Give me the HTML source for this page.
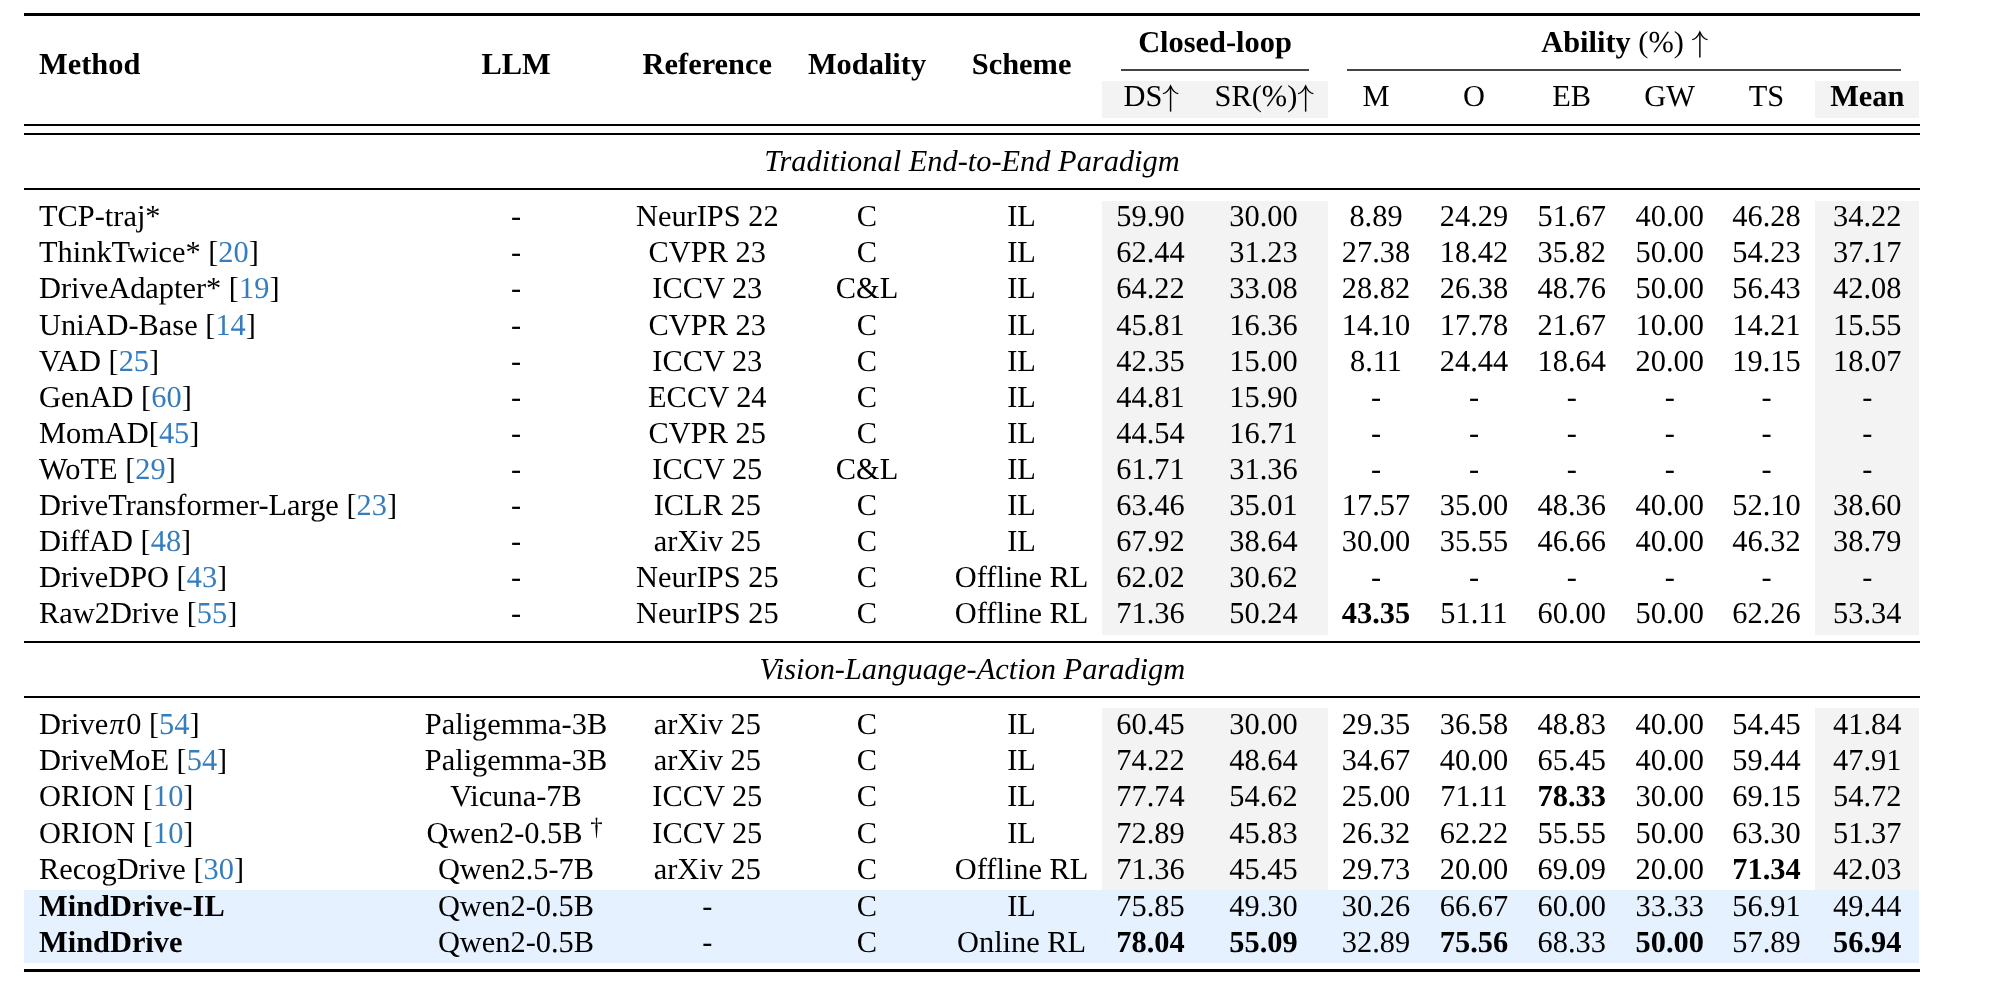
<!DOCTYPE html>
<html><head><meta charset="utf-8"><style>
html,body{margin:0;padding:0;background:#fff;width:1989px;height:990px;overflow:hidden;position:relative}
.t{position:absolute;text-rendering:geometricPrecision;font-family:"Liberation Serif",serif;font-size:30.4px;line-height:36px;height:36px;white-space:nowrap;color:#000}
.c{transform:translateX(-50%)}
.b{font-weight:bold}
.i{font-style:italic}
.r{position:absolute}
#w{position:absolute;left:0;top:0;width:1989px;height:990px;will-change:transform}
.cite{color:#367dbd}
sup{font-size:0.82em;line-height:0;vertical-align:0.34em}
.arr{display:inline-block;position:relative;width:15.2px;height:0}
.arr svg{position:absolute;left:1px;top:-22px;width:16px;height:28px;overflow:visible}
</style></head><body><div id="w">
<div class="r" style="left:1102px;top:81px;width:226px;height:37px;background:#f3f3f3"></div>
<div class="r" style="left:1815px;top:81px;width:104px;height:37px;background:#f3f3f3"></div>
<div class="r" style="left:1102px;top:201px;width:226px;height:434px;background:#f3f3f3"></div>
<div class="r" style="left:1815px;top:201px;width:104px;height:434px;background:#f3f3f3"></div>
<div class="r" style="left:1102px;top:708px;width:226px;height:182px;background:#f3f3f3"></div>
<div class="r" style="left:1815px;top:708px;width:104px;height:182px;background:#f3f3f3"></div>
<div class="r" style="left:24px;top:890px;width:1895px;height:73px;background:#e5f1fe"></div>
<div class="r" style="left:24px;top:13px;width:1896px;height:3px;background:#000"></div>
<div class="r" style="left:1121px;top:69px;width:188px;height:2px;background:#444"></div>
<div class="r" style="left:1347px;top:69px;width:554px;height:2px;background:#444"></div>
<div class="r" style="left:24px;top:124px;width:1896px;height:2px;background:#000"></div>
<div class="r" style="left:24px;top:133px;width:1896px;height:2px;background:#000"></div>
<div class="r" style="left:24px;top:188px;width:1896px;height:2px;background:#000"></div>
<div class="r" style="left:24px;top:641px;width:1896px;height:2px;background:#000"></div>
<div class="r" style="left:24px;top:696px;width:1896px;height:2px;background:#000"></div>
<div class="r" style="left:24px;top:969px;width:1896px;height:3px;background:#000"></div>
<div class="t b" style="left:39.0px;top:46.3px">Method</div>
<div class="t c b" style="left:516.0px;top:46.3px">LLM</div>
<div class="t c b" style="left:707.3px;top:46.3px">Reference</div>
<div class="t c b" style="left:867.0px;top:46.3px">Modality</div>
<div class="t c b" style="left:1021.6px;top:46.3px">Scheme</div>
<div class="t c b" style="left:1215.0px;top:24.0px">Closed-loop</div>
<div class="t c " style="left:1624.0px;top:24.0px"><b>Ability</b> (%) <span class="arr"><svg viewBox="0 0 16 28"><path d="M7.6,2.4V27.6" stroke="#000" stroke-width="1.45" fill="none"/><path d="M-0.1,9.7Q4.4,9.1 7.6,2Q10.8,9.1 15.3,9.7" stroke="#000" stroke-width="1.35" fill="none"/></svg></span></div>
<div class="t c " style="left:1150.5px;top:78.0px">DS<span class="arr"><svg viewBox="0 0 16 28"><path d="M7.6,2.4V27.6" stroke="#000" stroke-width="1.45" fill="none"/><path d="M-0.1,9.7Q4.4,9.1 7.6,2Q10.8,9.1 15.3,9.7" stroke="#000" stroke-width="1.35" fill="none"/></svg></span></div>
<div class="t c " style="left:1263.5px;top:78.0px">SR(%)<span class="arr"><svg viewBox="0 0 16 28"><path d="M7.6,2.4V27.6" stroke="#000" stroke-width="1.45" fill="none"/><path d="M-0.1,9.7Q4.4,9.1 7.6,2Q10.8,9.1 15.3,9.7" stroke="#000" stroke-width="1.35" fill="none"/></svg></span></div>
<div class="t c " style="left:1376.0px;top:78.0px">M</div>
<div class="t c " style="left:1474.0px;top:78.0px">O</div>
<div class="t c " style="left:1571.7px;top:78.0px">EB</div>
<div class="t c " style="left:1669.7px;top:78.0px">GW</div>
<div class="t c " style="left:1766.5px;top:78.0px">TS</div>
<div class="t c b" style="left:1867.3px;top:78.0px">Mean</div>
<div class="t c i" style="left:972.0px;top:143.2px">Traditional End-to-End Paradigm</div>
<div class="t c i" style="left:972.3px;top:651.1px">Vision-Language-Action Paradigm</div>
<div class="t " style="left:39.0px;top:197.9px">TCP-traj*</div>
<div class="t c " style="left:516.0px;top:197.9px">-</div>
<div class="t c " style="left:707.3px;top:197.9px">NeurIPS 22</div>
<div class="t c " style="left:867.0px;top:197.9px">C</div>
<div class="t c " style="left:1021.6px;top:197.9px">IL</div>
<div class="t c " style="left:1150.5px;top:197.9px">59.90</div>
<div class="t c " style="left:1263.5px;top:197.9px">30.00</div>
<div class="t c " style="left:1376.0px;top:197.9px">8.89</div>
<div class="t c " style="left:1474.0px;top:197.9px">24.29</div>
<div class="t c " style="left:1571.7px;top:197.9px">51.67</div>
<div class="t c " style="left:1669.7px;top:197.9px">40.00</div>
<div class="t c " style="left:1766.5px;top:197.9px">46.28</div>
<div class="t c " style="left:1867.3px;top:197.9px">34.22</div>
<div class="t " style="left:39.0px;top:233.9px">ThinkTwice* [<span class="cite">20</span>]</div>
<div class="t c " style="left:516.0px;top:233.9px">-</div>
<div class="t c " style="left:707.3px;top:233.9px">CVPR 23</div>
<div class="t c " style="left:867.0px;top:233.9px">C</div>
<div class="t c " style="left:1021.6px;top:233.9px">IL</div>
<div class="t c " style="left:1150.5px;top:233.9px">62.44</div>
<div class="t c " style="left:1263.5px;top:233.9px">31.23</div>
<div class="t c " style="left:1376.0px;top:233.9px">27.38</div>
<div class="t c " style="left:1474.0px;top:233.9px">18.42</div>
<div class="t c " style="left:1571.7px;top:233.9px">35.82</div>
<div class="t c " style="left:1669.7px;top:233.9px">50.00</div>
<div class="t c " style="left:1766.5px;top:233.9px">54.23</div>
<div class="t c " style="left:1867.3px;top:233.9px">37.17</div>
<div class="t " style="left:39.0px;top:269.8px">DriveAdapter* [<span class="cite">19</span>]</div>
<div class="t c " style="left:516.0px;top:269.8px">-</div>
<div class="t c " style="left:707.3px;top:269.8px">ICCV 23</div>
<div class="t c " style="left:867.0px;top:269.8px">C&amp;L</div>
<div class="t c " style="left:1021.6px;top:269.8px">IL</div>
<div class="t c " style="left:1150.5px;top:269.8px">64.22</div>
<div class="t c " style="left:1263.5px;top:269.8px">33.08</div>
<div class="t c " style="left:1376.0px;top:269.8px">28.82</div>
<div class="t c " style="left:1474.0px;top:269.8px">26.38</div>
<div class="t c " style="left:1571.7px;top:269.8px">48.76</div>
<div class="t c " style="left:1669.7px;top:269.8px">50.00</div>
<div class="t c " style="left:1766.5px;top:269.8px">56.43</div>
<div class="t c " style="left:1867.3px;top:269.8px">42.08</div>
<div class="t " style="left:39.0px;top:306.7px">UniAD-Base [<span class="cite">14</span>]</div>
<div class="t c " style="left:516.0px;top:306.7px">-</div>
<div class="t c " style="left:707.3px;top:306.7px">CVPR 23</div>
<div class="t c " style="left:867.0px;top:306.7px">C</div>
<div class="t c " style="left:1021.6px;top:306.7px">IL</div>
<div class="t c " style="left:1150.5px;top:306.7px">45.81</div>
<div class="t c " style="left:1263.5px;top:306.7px">16.36</div>
<div class="t c " style="left:1376.0px;top:306.7px">14.10</div>
<div class="t c " style="left:1474.0px;top:306.7px">17.78</div>
<div class="t c " style="left:1571.7px;top:306.7px">21.67</div>
<div class="t c " style="left:1669.7px;top:306.7px">10.00</div>
<div class="t c " style="left:1766.5px;top:306.7px">14.21</div>
<div class="t c " style="left:1867.3px;top:306.7px">15.55</div>
<div class="t " style="left:39.0px;top:342.8px">VAD [<span class="cite">25</span>]</div>
<div class="t c " style="left:516.0px;top:342.8px">-</div>
<div class="t c " style="left:707.3px;top:342.8px">ICCV 23</div>
<div class="t c " style="left:867.0px;top:342.8px">C</div>
<div class="t c " style="left:1021.6px;top:342.8px">IL</div>
<div class="t c " style="left:1150.5px;top:342.8px">42.35</div>
<div class="t c " style="left:1263.5px;top:342.8px">15.00</div>
<div class="t c " style="left:1376.0px;top:342.8px">8.11</div>
<div class="t c " style="left:1474.0px;top:342.8px">24.44</div>
<div class="t c " style="left:1571.7px;top:342.8px">18.64</div>
<div class="t c " style="left:1669.7px;top:342.8px">20.00</div>
<div class="t c " style="left:1766.5px;top:342.8px">19.15</div>
<div class="t c " style="left:1867.3px;top:342.8px">18.07</div>
<div class="t " style="left:39.0px;top:378.9px">GenAD [<span class="cite">60</span>]</div>
<div class="t c " style="left:516.0px;top:378.9px">-</div>
<div class="t c " style="left:707.3px;top:378.9px">ECCV 24</div>
<div class="t c " style="left:867.0px;top:378.9px">C</div>
<div class="t c " style="left:1021.6px;top:378.9px">IL</div>
<div class="t c " style="left:1150.5px;top:378.9px">44.81</div>
<div class="t c " style="left:1263.5px;top:378.9px">15.90</div>
<div class="t c " style="left:1376.0px;top:378.9px">-</div>
<div class="t c " style="left:1474.0px;top:378.9px">-</div>
<div class="t c " style="left:1571.7px;top:378.9px">-</div>
<div class="t c " style="left:1669.7px;top:378.9px">-</div>
<div class="t c " style="left:1766.5px;top:378.9px">-</div>
<div class="t c " style="left:1867.3px;top:378.9px">-</div>
<div class="t " style="left:39.0px;top:414.8px">MomAD[<span class="cite">45</span>]</div>
<div class="t c " style="left:516.0px;top:414.8px">-</div>
<div class="t c " style="left:707.3px;top:414.8px">CVPR 25</div>
<div class="t c " style="left:867.0px;top:414.8px">C</div>
<div class="t c " style="left:1021.6px;top:414.8px">IL</div>
<div class="t c " style="left:1150.5px;top:414.8px">44.54</div>
<div class="t c " style="left:1263.5px;top:414.8px">16.71</div>
<div class="t c " style="left:1376.0px;top:414.8px">-</div>
<div class="t c " style="left:1474.0px;top:414.8px">-</div>
<div class="t c " style="left:1571.7px;top:414.8px">-</div>
<div class="t c " style="left:1669.7px;top:414.8px">-</div>
<div class="t c " style="left:1766.5px;top:414.8px">-</div>
<div class="t c " style="left:1867.3px;top:414.8px">-</div>
<div class="t " style="left:39.0px;top:450.9px">WoTE [<span class="cite">29</span>]</div>
<div class="t c " style="left:516.0px;top:450.9px">-</div>
<div class="t c " style="left:707.3px;top:450.9px">ICCV 25</div>
<div class="t c " style="left:867.0px;top:450.9px">C&amp;L</div>
<div class="t c " style="left:1021.6px;top:450.9px">IL</div>
<div class="t c " style="left:1150.5px;top:450.9px">61.71</div>
<div class="t c " style="left:1263.5px;top:450.9px">31.36</div>
<div class="t c " style="left:1376.0px;top:450.9px">-</div>
<div class="t c " style="left:1474.0px;top:450.9px">-</div>
<div class="t c " style="left:1571.7px;top:450.9px">-</div>
<div class="t c " style="left:1669.7px;top:450.9px">-</div>
<div class="t c " style="left:1766.5px;top:450.9px">-</div>
<div class="t c " style="left:1867.3px;top:450.9px">-</div>
<div class="t " style="left:39.0px;top:486.7px">DriveTransformer-Large [<span class="cite">23</span>]</div>
<div class="t c " style="left:516.0px;top:486.7px">-</div>
<div class="t c " style="left:707.3px;top:486.7px">ICLR 25</div>
<div class="t c " style="left:867.0px;top:486.7px">C</div>
<div class="t c " style="left:1021.6px;top:486.7px">IL</div>
<div class="t c " style="left:1150.5px;top:486.7px">63.46</div>
<div class="t c " style="left:1263.5px;top:486.7px">35.01</div>
<div class="t c " style="left:1376.0px;top:486.7px">17.57</div>
<div class="t c " style="left:1474.0px;top:486.7px">35.00</div>
<div class="t c " style="left:1571.7px;top:486.7px">48.36</div>
<div class="t c " style="left:1669.7px;top:486.7px">40.00</div>
<div class="t c " style="left:1766.5px;top:486.7px">52.10</div>
<div class="t c " style="left:1867.3px;top:486.7px">38.60</div>
<div class="t " style="left:39.0px;top:522.8px">DiffAD [<span class="cite">48</span>]</div>
<div class="t c " style="left:516.0px;top:522.8px">-</div>
<div class="t c " style="left:707.3px;top:522.8px">arXiv 25</div>
<div class="t c " style="left:867.0px;top:522.8px">C</div>
<div class="t c " style="left:1021.6px;top:522.8px">IL</div>
<div class="t c " style="left:1150.5px;top:522.8px">67.92</div>
<div class="t c " style="left:1263.5px;top:522.8px">38.64</div>
<div class="t c " style="left:1376.0px;top:522.8px">30.00</div>
<div class="t c " style="left:1474.0px;top:522.8px">35.55</div>
<div class="t c " style="left:1571.7px;top:522.8px">46.66</div>
<div class="t c " style="left:1669.7px;top:522.8px">40.00</div>
<div class="t c " style="left:1766.5px;top:522.8px">46.32</div>
<div class="t c " style="left:1867.3px;top:522.8px">38.79</div>
<div class="t " style="left:39.0px;top:558.9px">DriveDPO [<span class="cite">43</span>]</div>
<div class="t c " style="left:516.0px;top:558.9px">-</div>
<div class="t c " style="left:707.3px;top:558.9px">NeurIPS 25</div>
<div class="t c " style="left:867.0px;top:558.9px">C</div>
<div class="t c " style="left:1021.6px;top:558.9px">Offline RL</div>
<div class="t c " style="left:1150.5px;top:558.9px">62.02</div>
<div class="t c " style="left:1263.5px;top:558.9px">30.62</div>
<div class="t c " style="left:1376.0px;top:558.9px">-</div>
<div class="t c " style="left:1474.0px;top:558.9px">-</div>
<div class="t c " style="left:1571.7px;top:558.9px">-</div>
<div class="t c " style="left:1669.7px;top:558.9px">-</div>
<div class="t c " style="left:1766.5px;top:558.9px">-</div>
<div class="t c " style="left:1867.3px;top:558.9px">-</div>
<div class="t " style="left:39.0px;top:594.8px">Raw2Drive [<span class="cite">55</span>]</div>
<div class="t c " style="left:516.0px;top:594.8px">-</div>
<div class="t c " style="left:707.3px;top:594.8px">NeurIPS 25</div>
<div class="t c " style="left:867.0px;top:594.8px">C</div>
<div class="t c " style="left:1021.6px;top:594.8px">Offline RL</div>
<div class="t c " style="left:1150.5px;top:594.8px">71.36</div>
<div class="t c " style="left:1263.5px;top:594.8px">50.24</div>
<div class="t c " style="left:1376.0px;top:594.8px"><b>43.35</b></div>
<div class="t c " style="left:1474.0px;top:594.8px">51.11</div>
<div class="t c " style="left:1571.7px;top:594.8px">60.00</div>
<div class="t c " style="left:1669.7px;top:594.8px">50.00</div>
<div class="t c " style="left:1766.5px;top:594.8px">62.26</div>
<div class="t c " style="left:1867.3px;top:594.8px">53.34</div>
<div class="t " style="left:39.0px;top:706.1px">Drive<i style="margin-left:1.4px;margin-right:1.3px">π</i>0 [<span class="cite">54</span>]</div>
<div class="t c " style="left:516.0px;top:706.1px">Paligemma-3B</div>
<div class="t c " style="left:707.3px;top:706.1px">arXiv 25</div>
<div class="t c " style="left:867.0px;top:706.1px">C</div>
<div class="t c " style="left:1021.6px;top:706.1px">IL</div>
<div class="t c " style="left:1150.5px;top:706.1px">60.45</div>
<div class="t c " style="left:1263.5px;top:706.1px">30.00</div>
<div class="t c " style="left:1376.0px;top:706.1px">29.35</div>
<div class="t c " style="left:1474.0px;top:706.1px">36.58</div>
<div class="t c " style="left:1571.7px;top:706.1px">48.83</div>
<div class="t c " style="left:1669.7px;top:706.1px">40.00</div>
<div class="t c " style="left:1766.5px;top:706.1px">54.45</div>
<div class="t c " style="left:1867.3px;top:706.1px">41.84</div>
<div class="t " style="left:39.0px;top:742.0px">DriveMoE [<span class="cite">54</span>]</div>
<div class="t c " style="left:516.0px;top:742.0px">Paligemma-3B</div>
<div class="t c " style="left:707.3px;top:742.0px">arXiv 25</div>
<div class="t c " style="left:867.0px;top:742.0px">C</div>
<div class="t c " style="left:1021.6px;top:742.0px">IL</div>
<div class="t c " style="left:1150.5px;top:742.0px">74.22</div>
<div class="t c " style="left:1263.5px;top:742.0px">48.64</div>
<div class="t c " style="left:1376.0px;top:742.0px">34.67</div>
<div class="t c " style="left:1474.0px;top:742.0px">40.00</div>
<div class="t c " style="left:1571.7px;top:742.0px">65.45</div>
<div class="t c " style="left:1669.7px;top:742.0px">40.00</div>
<div class="t c " style="left:1766.5px;top:742.0px">59.44</div>
<div class="t c " style="left:1867.3px;top:742.0px">47.91</div>
<div class="t " style="left:39.0px;top:777.9px">ORION [<span class="cite">10</span>]</div>
<div class="t c " style="left:516.0px;top:777.9px">Vicuna-7B</div>
<div class="t c " style="left:707.3px;top:777.9px">ICCV 25</div>
<div class="t c " style="left:867.0px;top:777.9px">C</div>
<div class="t c " style="left:1021.6px;top:777.9px">IL</div>
<div class="t c " style="left:1150.5px;top:777.9px">77.74</div>
<div class="t c " style="left:1263.5px;top:777.9px">54.62</div>
<div class="t c " style="left:1376.0px;top:777.9px">25.00</div>
<div class="t c " style="left:1474.0px;top:777.9px">71.11</div>
<div class="t c " style="left:1571.7px;top:777.9px"><b>78.33</b></div>
<div class="t c " style="left:1669.7px;top:777.9px">30.00</div>
<div class="t c " style="left:1766.5px;top:777.9px">69.15</div>
<div class="t c " style="left:1867.3px;top:777.9px">54.72</div>
<div class="t " style="left:39.0px;top:814.8px">ORION [<span class="cite">10</span>]</div>
<div class="t c " style="left:514.5px;top:814.8px">Qwen2-0.5B <sup>†</sup></div>
<div class="t c " style="left:707.3px;top:814.8px">ICCV 25</div>
<div class="t c " style="left:867.0px;top:814.8px">C</div>
<div class="t c " style="left:1021.6px;top:814.8px">IL</div>
<div class="t c " style="left:1150.5px;top:814.8px">72.89</div>
<div class="t c " style="left:1263.5px;top:814.8px">45.83</div>
<div class="t c " style="left:1376.0px;top:814.8px">26.32</div>
<div class="t c " style="left:1474.0px;top:814.8px">62.22</div>
<div class="t c " style="left:1571.7px;top:814.8px">55.55</div>
<div class="t c " style="left:1669.7px;top:814.8px">50.00</div>
<div class="t c " style="left:1766.5px;top:814.8px">63.30</div>
<div class="t c " style="left:1867.3px;top:814.8px">51.37</div>
<div class="t " style="left:39.0px;top:851.4px">RecogDrive [<span class="cite">30</span>]</div>
<div class="t c " style="left:516.0px;top:851.4px">Qwen2.5-7B</div>
<div class="t c " style="left:707.3px;top:851.4px">arXiv 25</div>
<div class="t c " style="left:867.0px;top:851.4px">C</div>
<div class="t c " style="left:1021.6px;top:851.4px">Offline RL</div>
<div class="t c " style="left:1150.5px;top:851.4px">71.36</div>
<div class="t c " style="left:1263.5px;top:851.4px">45.45</div>
<div class="t c " style="left:1376.0px;top:851.4px">29.73</div>
<div class="t c " style="left:1474.0px;top:851.4px">20.00</div>
<div class="t c " style="left:1571.7px;top:851.4px">69.09</div>
<div class="t c " style="left:1669.7px;top:851.4px">20.00</div>
<div class="t c " style="left:1766.5px;top:851.4px"><b>71.34</b></div>
<div class="t c " style="left:1867.3px;top:851.4px">42.03</div>
<div class="t " style="left:39.0px;top:887.9px"><b>MindDrive-IL</b></div>
<div class="t c " style="left:516.0px;top:887.9px">Qwen2-0.5B</div>
<div class="t c " style="left:707.3px;top:887.9px">-</div>
<div class="t c " style="left:867.0px;top:887.9px">C</div>
<div class="t c " style="left:1021.6px;top:887.9px">IL</div>
<div class="t c " style="left:1150.5px;top:887.9px">75.85</div>
<div class="t c " style="left:1263.5px;top:887.9px">49.30</div>
<div class="t c " style="left:1376.0px;top:887.9px">30.26</div>
<div class="t c " style="left:1474.0px;top:887.9px">66.67</div>
<div class="t c " style="left:1571.7px;top:887.9px">60.00</div>
<div class="t c " style="left:1669.7px;top:887.9px">33.33</div>
<div class="t c " style="left:1766.5px;top:887.9px">56.91</div>
<div class="t c " style="left:1867.3px;top:887.9px">49.44</div>
<div class="t " style="left:39.0px;top:924.1px"><b>MindDrive</b></div>
<div class="t c " style="left:516.0px;top:924.1px">Qwen2-0.5B</div>
<div class="t c " style="left:707.3px;top:924.1px">-</div>
<div class="t c " style="left:867.0px;top:924.1px">C</div>
<div class="t c " style="left:1021.6px;top:924.1px">Online RL</div>
<div class="t c " style="left:1150.5px;top:924.1px"><b>78.04</b></div>
<div class="t c " style="left:1263.5px;top:924.1px"><b>55.09</b></div>
<div class="t c " style="left:1376.0px;top:924.1px">32.89</div>
<div class="t c " style="left:1474.0px;top:924.1px"><b>75.56</b></div>
<div class="t c " style="left:1571.7px;top:924.1px">68.33</div>
<div class="t c " style="left:1669.7px;top:924.1px"><b>50.00</b></div>
<div class="t c " style="left:1766.5px;top:924.1px">57.89</div>
<div class="t c " style="left:1867.3px;top:924.1px"><b>56.94</b></div>
</div></body></html>
